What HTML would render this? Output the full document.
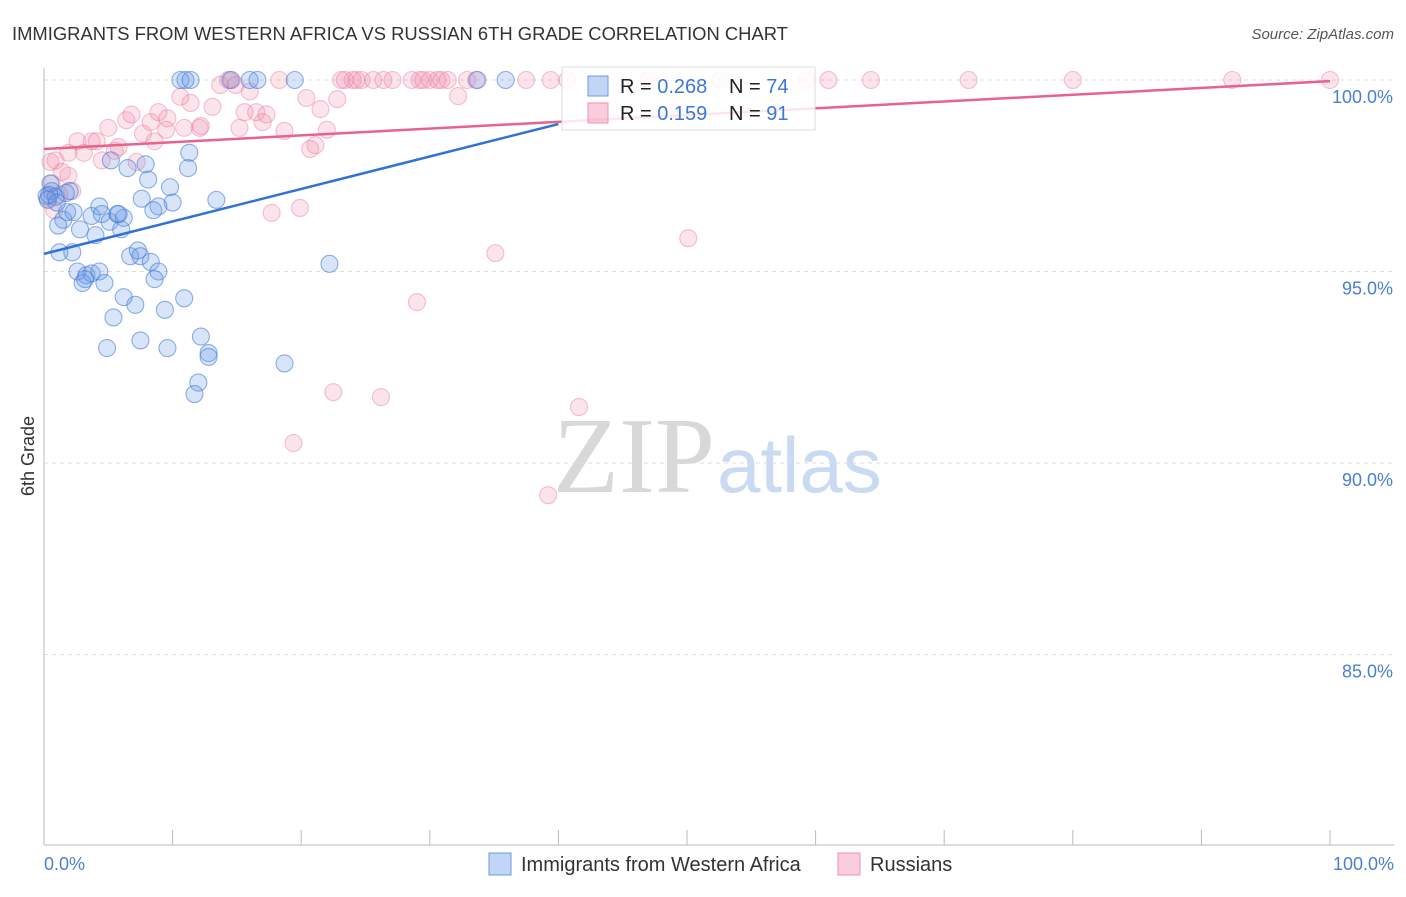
<!DOCTYPE html>
<html><head><meta charset="utf-8"><style>
body{margin:0;background:#fff;font-family:"Liberation Sans",sans-serif;}
svg text{font-family:"Liberation Sans",sans-serif;}
</style></head><body>
<svg id="chart" width="1406" height="892">
<text x="12" y="40" font-size="18.4" fill="#333">IMMIGRANTS FROM WESTERN AFRICA VS RUSSIAN 6TH GRADE CORRELATION CHART</text>
<text x="1394" y="39" font-size="15" fill="#555" font-style="italic" text-anchor="end">Source: ZipAtlas.com</text>
<g>
<text x="553" y="492" font-size="108" fill="#d8d8d8" style="font-family:'Liberation Serif',serif">ZIP</text>
<text x="717" y="492" font-size="78" fill="#c9daf2">atlas</text>
</g>
<g id="grid"></g>
<g id="axes"></g>
<g id="pts"></g>
<g id="trend"></g>
<text transform="translate(34,456) rotate(-90)" font-size="18" fill="#333" text-anchor="middle">6th Grade</text>
<g>
<rect x="562" y="67" width="253" height="63" fill="rgba(255,255,255,0.85)" stroke="#ddd"/>
<rect x="588" y="76" width="20" height="20" fill="rgba(100,150,230,0.4)" stroke="#6b9be3"/>
<rect x="588" y="103" width="20" height="20" fill="rgba(240,130,165,0.4)" stroke="#f090b0"/>
<text x="620" y="93" font-size="20" fill="#222">R = <tspan fill="#3b78d8">0.268</tspan></text>
<text x="729" y="93" font-size="20" fill="#222">N = <tspan fill="#3b78d8">74</tspan></text>
<text x="620" y="120" font-size="20" fill="#222">R = <tspan fill="#3b78d8"> 0.159</tspan></text>
<text x="729" y="120" font-size="20" fill="#222">N = <tspan fill="#3b78d8"> 91</tspan></text>
</g>
<g>
<rect x="489" y="853" width="22" height="22" fill="rgba(100,150,230,0.4)" stroke="#6b9be3"/>
<text x="521" y="871" font-size="20" fill="#333">Immigrants from Western Africa</text>
<rect x="838" y="853" width="22" height="22" fill="rgba(240,130,165,0.4)" stroke="#f090b0"/>
<text x="870" y="871" font-size="20" fill="#333">Russians</text>
</g>
</svg>
<script>
const yTicks=[100,95,90,85];
const yTickLabels=["100.0%","95.0%","90.0%","85.0%"];
const xTickLabels=["0.0%","100.0%"];
const blueX=[10.6,11.0,11.4,14.5,16.0,16.6,19.5,33.7,35.9,11.3,11.2,13.4,9.8,10.0,8.9,8.5,8.1,7.9,6.5,5.2,7.6,0.5,0.6,0.2,0.9,1.7,1.8,0.3,1.5,1.1,2.3,2.8,3.7,4.3,4.0,4.5,5.1,5.7,6.0,6.2,5.8,1.2,2.2,2.6,3.3,3.7,4.3,4.7,3.0,3.2,6.7,7.3,7.5,8.3,8.9,8.6,22.2,6.2,7.1,5.4,9.4,10.9,4.9,7.5,9.6,12.2,12.8,12.8,12.0,11.7,18.7,0.4,1.0,2.0];
const blueY=[100,100,100,100,100,100,100,100,100,98.1,97.7,96.87,97.2,96.8,96.7,96.6,97.4,97.8,97.7,97.9,96.9,97.3,97.1,96.97,96.95,97.05,96.55,96.87,96.35,96.2,96.55,96.1,96.45,96.7,95.95,96.5,96.3,96.5,96.1,96.4,96.5,95.5,95.5,95.0,94.9,94.95,95.0,94.7,94.7,94.8,95.4,95.55,95.4,95.25,95.0,94.8,95.2,94.33,94.13,93.8,94.0,94.3,93.0,93.2,93.0,93.3,92.87,92.77,92.1,91.8,92.6,97.0,96.8,97.1];
const pinkX=[14.3,14.6,18.3,23.1,23.4,24.0,24.3,24.7,25.6,26.4,27.1,28.6,29.2,29.5,30.0,30.6,30.9,31.4,32.9,33.6,37.5,39.4,40.7,47.0,52.6,59.3,61.0,64.3,71.9,80.0,92.4,100,0.5,0.9,1.4,1.9,2.2,1.9,2.6,3.1,3.7,4.1,4.5,5.0,5.5,5.8,6.4,6.8,7.2,7.7,8.3,8.6,8.9,9.6,9.5,10.6,10.9,11.4,12.1,12.2,13.1,13.7,14.9,15.2,15.6,16.0,16.5,17.0,17.3,18.7,20.4,20.7,21.1,21.5,22.0,22.8,32.2,17.7,19.9,50.1,35.1,29.0,22.5,26.2,41.6,19.4,39.2,0.3,0.8,1.2,0.6];
const pinkY=[100,100,100,100,100,100,100,100,100,100,100,100,100,100,100,100,100,100,100,100,100,100,100,100,100,100,100,100,100,100,100,100,97.86,97.9,97.6,97.5,97.1,98.1,98.4,98.1,98.4,98.4,97.9,98.75,98.15,98.25,98.95,99.1,97.86,98.6,98.9,98.4,99.16,99.0,98.7,99.56,98.75,99.4,98.75,98.8,99.3,99.87,99.87,98.75,99.16,99.7,99.16,98.9,99.1,98.67,99.53,98.2,98.3,99.24,98.7,99.5,99.58,96.53,96.66,95.87,95.48,94.2,91.85,91.72,91.46,90.52,89.16,96.9,96.6,97.0,97.3];
const blueTrend=[[0,95.46],[40,98.85]];
const pinkTrend=[[0,98.2],[100,99.97]];
const NS="http://www.w3.org/2000/svg";
const X=v=>44+v*12.86;
const Y=v=>80+(100-v)*38.3;
function mk(t,a,p){const e=document.createElementNS(NS,t);for(const k in a)e.setAttribute(k,a[k]);p.appendChild(e);return e;}
const grid=document.getElementById('grid'),axes=document.getElementById('axes');
yTicks.forEach((t,i)=>{
 const l=mk('line',{x1:44,x2:1394,y1:Y(t),y2:Y(t),stroke:'#ddd','stroke-dasharray':'4,4'},grid);
 
 
 const tx=mk('text',{x:1393,y:Y(t)+23,'font-size':18,fill:'#4a7fd6','text-anchor':'end'},axes);
 tx.textContent=yTickLabels[i];
 
 
});
const ax=mk('line',{x1:44,x2:44,y1:68,y2:845,stroke:'#bbb'},axes);


const bx=mk('line',{x1:44,x2:1394,y1:845,y2:845,stroke:'#bbb'},axes);


for(let i=0;i<=10;i++){const t=mk('line',{x1:X(i*10),x2:X(i*10),y1:830,y2:845,stroke:'#bbb'},axes);
 
 }
[[0,'start',44],[1,'end',1394]].forEach(([i,a,x])=>{const t=mk('text',{x:x,y:870,'font-size':18,fill:'#4a7fd6','text-anchor':a},axes);t.textContent=xTickLabels[i];
 
 });
const pts=document.getElementById('pts');
pinkX.forEach((x,i)=>{const c=mk('circle',{cx:X(x),cy:Y(pinkY[i]),r:8.5,fill:'rgba(240,130,165,0.22)',stroke:'rgba(235,120,155,0.45)','stroke-width':1.1},pts);
 
 });
blueX.forEach((x,i)=>{const c=mk('circle',{cx:X(x),cy:Y(blueY[i]),r:8.5,fill:'rgba(100,150,230,0.25)',stroke:'rgba(70,125,215,0.6)','stroke-width':1.1},pts);
 
 });
const tr=document.getElementById('trend');
const bl=mk('line',{x1:X(blueTrend[0][0]),y1:Y(blueTrend[0][1]),x2:X(blueTrend[1][0]),y2:Y(blueTrend[1][1]),stroke:'#2f72d6','stroke-width':2.5},tr);


const pl=mk('line',{x1:X(pinkTrend[0][0]),y1:Y(pinkTrend[0][1]),x2:X(pinkTrend[1][0]),y2:Y(pinkTrend[1][1]),stroke:'#e8628c','stroke-width':2.5},tr);


</script>
</body></html>
